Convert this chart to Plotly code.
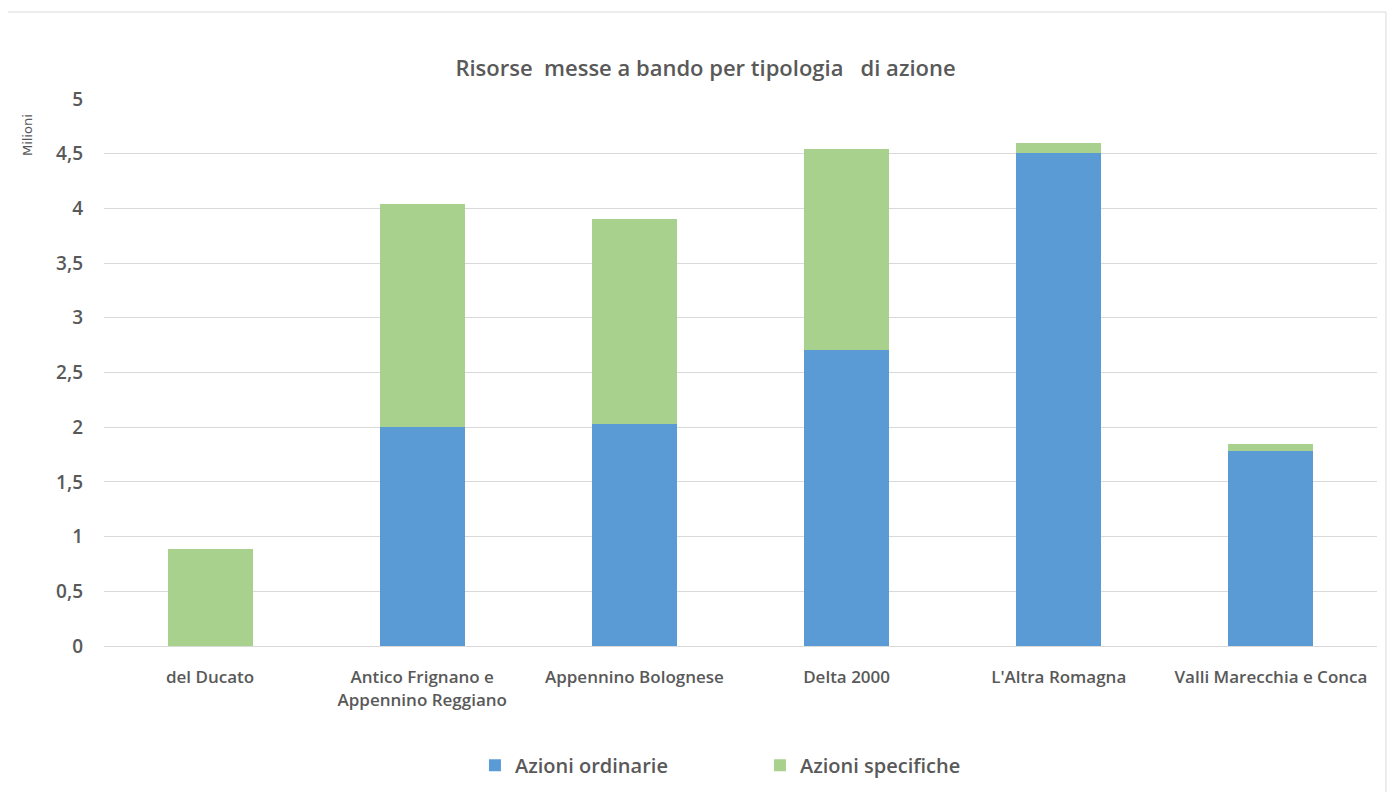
import plotly.graph_objects as go

categories = ["del Ducato", "Antico Frignano e<br>Appennino Reggiano", "Appennino Bolognese",
              "Delta 2000", "L'Altra Romagna", "Valli Marecchia e Conca"]
ordinarie = [0.0, 2.00, 2.03, 2.71, 4.51, 1.78]
specifiche = [0.89, 2.04, 1.87, 1.83, 0.09, 0.07]
y_ticks = [0, 0.5, 1, 1.5, 2, 2.5, 3, 3.5, 4, 4.5, 5]
y_tick_text = ["0", "0,5", "1", "1,5", "2", "2,5", "3", "3,5", "4", "4,5", "5"]

FONT = "Open Sans"
GREY = "#595959"

fig = go.Figure()
fig.add_trace(go.Bar(x=categories, y=ordinarie, name="Azioni ordinarie",
                     marker=dict(color="#5B9BD5", line=dict(width=0))))
fig.add_trace(go.Bar(x=categories, y=specifiche, name="Azioni specifiche",
                     marker=dict(color="#A9D18E", line=dict(width=0))))

fig.update_layout(
    width=1395, height=792,
    barmode="stack", bargap=0.6,
    paper_bgcolor="white", plot_bgcolor="white",
    margin=dict(l=96, r=26, t=91, b=154),
    font=dict(family=FONT, color=GREY),
    title=dict(text="Risorse  messe a bando per tipologia   di azione",
               x=0.5, xref="container", y=1 - 60 / 792, yanchor="middle",
               font=dict(family=FONT, size=22, color=GREY, weight=600)),
    showlegend=True,
    legend=dict(orientation="h", x=0.2914, xanchor="left", y=-0.218, yanchor="middle",
                font=dict(family=FONT, size=20, color=GREY, weight=600),
                itemwidth=30, traceorder="normal", entrywidth=240),
    xaxis=dict(showgrid=False, showline=True, linecolor="#D9D9D9", linewidth=1,
               tickfont=dict(family=FONT, size=17, color=GREY, weight=600),
               ticks="", ticklabelstandoff=16, fixedrange=True),
    yaxis=dict(range=[0, 5], tickvals=y_ticks, ticktext=y_tick_text,
               showgrid=True, gridcolor="#D9D9D9", gridwidth=1, zeroline=False,
               tickfont=dict(family=FONT, size=19, color=GREY, weight=600),
               ticks="", ticklen=0, ticklabelstandoff=20, fixedrange=True),
    shapes=[dict(type="rect", xref="paper", yref="paper",
                 x0=-99 / 1273, x1=(1386 - 104) / 1273,
                 y0=-(792 - 646 + 2) / 547, y1=(646 - 12) / 547,
                 line=dict(color="#D9D9D9", width=1), layer="below")],
    annotations=[dict(text="Milioni", xref="paper", yref="paper",
                      x=-0.0605, y=0.934, textangle=-90,
                      showarrow=False, font=dict(family="DejaVu Sans", size=13, color=GREY),
                      xanchor="center", yanchor="middle")],
)

fig.write_html("out.html")
